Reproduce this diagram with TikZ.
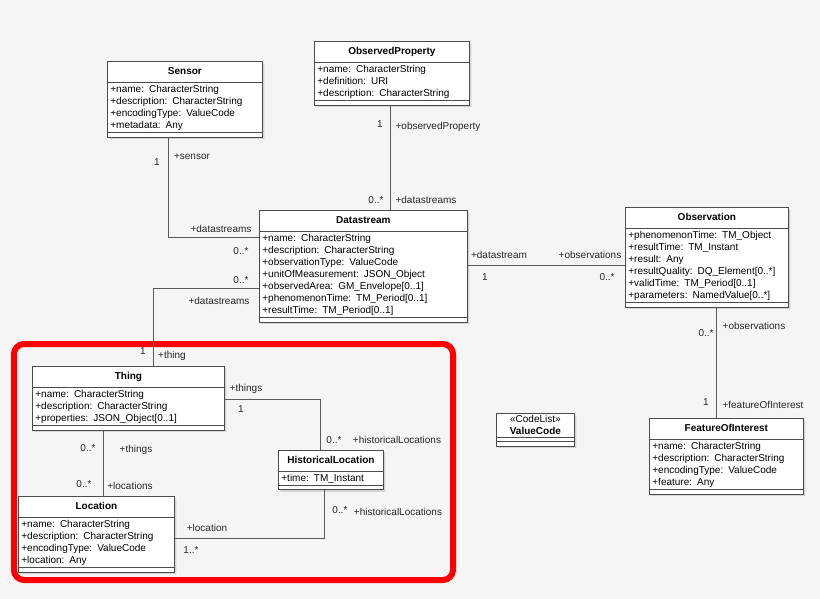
\documentclass[tikz,border=0pt]{standalone}
\usepackage{fontspec}
\setmainfont{Liberation Sans}
\usetikzlibrary{shapes.multipart,shadows}
\newcommand{\ttlstrut}{\rule[-6pt]{0pt}{17pt}}
\begin{document}
\begin{tikzpicture}[x=1pt,y=-1pt,
  every node/.style={font=\fontsize{10}{12}\selectfont},
  cls/.style={rectangle split,rectangle split parts=3,draw=black!70,fill=white,
    line width=0.8pt,anchor=north west,inner xsep=3pt,inner ysep=1.8pt,align=left,
    drop shadow={shadow xshift=2pt,shadow yshift=-2pt,fill=black!25,opacity=0.6}},
  con/.style={draw=black!65,line width=0.8pt},
  lab/.style={inner sep=0pt,text=black!85}]
\fill[black!4] (0,0) rectangle (820,599);
\useasboundingbox (0,0) rectangle (820,599);
\draw[red,line width=6pt,rounded corners=10pt] (14,344) rectangle (453,580);

\node[cls,text width=149pt] (sensor) at (107,61) {\centering\bfseries\ttlstrut Sensor\par
 \nodepart{second}+name: CharacterString\\+description: CharacterString\\+encodingType: ValueCode\\+metadata: Any\nodepart{third}};
\node[cls,text width=149pt] (op) at (314,41) {\centering\bfseries\ttlstrut ObservedProperty\par
 \nodepart{second}+name: CharacterString\\+definition: URI\\+description: CharacterString\nodepart{third}};
\node[cls,text width=202pt] (ds) at (259,210) {\centering\bfseries\ttlstrut Datastream\par
 \nodepart{second}+name: CharacterString\\+description: CharacterString\\+observationType: ValueCode\\+unitOfMeasurement: JSON\_Object\\+observedArea: GM\_Envelope[0..1]\\+phenomenonTime: TM\_Period[0..1]\\+resultTime: TM\_Period[0..1]\nodepart{third}};
\node[cls,text width=157pt] (obs) at (625,207) {\centering\bfseries\ttlstrut Observation\par
 \nodepart{second}+phenomenonTime: TM\_Object\\+resultTime: TM\_Instant\\+result: Any\\+resultQuality: DQ\_Element[0..*]\\+validTime: TM\_Period[0..1]\\+parameters: NamedValue[0..*]\nodepart{third}};
\node[cls,text width=148pt] (foi) at (649,418) {\centering\bfseries\ttlstrut FeatureOfInterest\par
 \nodepart{second}+name: CharacterString\\+description: CharacterString\\+encodingType: ValueCode\\+feature: Any\nodepart{third}};
\node[cls,text width=186pt] (thing) at (32,366) {\centering\bfseries\ttlstrut Thing\par
 \nodepart{second}+name: CharacterString\\+description: CharacterString\\+properties: JSON\_Object[0..1]\nodepart{third}};
\node[cls,text width=99pt] (hl) at (278,450) {\centering\bfseries\ttlstrut HistoricalLocation\par
 \nodepart{second}+time: TM\_Instant\nodepart{third}};
\node[cls,text width=150pt] (loc) at (18,496) {\centering\bfseries\ttlstrut Location\par
 \nodepart{second}+name: CharacterString\\+description: CharacterString\\+encodingType: ValueCode\\+location: Any\nodepart{third}};
\node[cls,text width=72pt] (vc) at (496,413) {\centering «CodeList»\\\bfseries ValueCode\par
 \nodepart{second}\nodepart{third}};

% connectors
\draw[con] (sensor.south -| 168,0) |- (ds.west |- 0,237);
\draw[con] (op.south -| 390,0) -- (ds.north -| 390,0);
\draw[con] (ds.east |- 0,265) -- (obs.west |- 0,265);
\draw[con] (ds.west |- 0,288) -| (thing.north -| 153,0);
\draw[con] (obs.south -| 716,0) -- (foi.north -| 716,0);
\draw[con] (thing.east |- 0,399) -| (hl.north -| 320,0);
\draw[con] (thing.south -| 103,0) -- (loc.north -| 103,0);
\draw[con] (hl.south -| 324,0) |- (loc.east |- 0,538);

% labels
\node[lab] at (157,162) {1};
\node[lab] at (192,157) {+sensor};
\node[lab] at (221,229) {+datastreams};
\node[lab] at (241,251) {0..*};
\node[lab] at (380,124) {1};
\node[lab] at (438,127) {+observedProperty};
\node[lab] at (376,200) {0..*};
\node[lab] at (426,200) {+datastreams};
\node[lab] at (499,255) {+datastream};
\node[lab] at (485,277) {1};
\node[lab] at (590,255) {+observations};
\node[lab] at (607,277) {0..*};
\node[lab] at (241,280) {0..*};
\node[lab] at (219,301) {+datastreams};
\node[lab] at (143,351) {1};
\node[lab] at (172,356) {+thing};
\node[lab] at (706,333) {0..*};
\node[lab] at (754,326) {+observations};
\node[lab] at (706,402) {1};
\node[lab] at (763,405) {+featureOfInterest};
\node[lab] at (246,389) {+things};
\node[lab] at (241,409) {1};
\node[lab] at (334,440) {0..*};
\node[lab] at (397,440) {+historicalLocations};
\node[lab] at (88,448) {0..*};
\node[lab] at (136,450) {+things};
\node[lab] at (84,484) {0..*};
\node[lab] at (130,486) {+locations};
\node[lab] at (340,510) {0..*};
\node[lab] at (398,512) {+historicalLocations};
\node[lab] at (207,528) {+location};
\node[lab] at (191,550) {1..*};
\end{tikzpicture}
\end{document}
